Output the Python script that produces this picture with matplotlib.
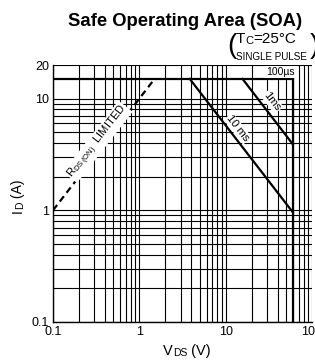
import matplotlib
matplotlib.use("Agg")
import matplotlib.pyplot as plt
from matplotlib.ticker import FixedLocator, NullFormatter
from matplotlib.text import Annotation

plt.rcParams['font.family'] = ['Liberation Sans', 'DejaVu Sans']

# ---- data ----
x_ticks = [0.1, 1, 10, 100]
x_tick_labels = ['0.1', '1', '10', '100']
y_ticks = [0.1, 1, 10, 20]
y_tick_labels = ['0.1', '1', '10', '20']

rds_v = [0.1, 1.5]
rds_i = [1.0, 15.0]
limit_v = [0.1, 60]
limit_i = [15.0, 15.0]
ms10_v = [3.84, 60]
ms10_i = [15.0, 0.96]
ms1_v = [15.7, 60]
ms1_i = [15.0, 3.9]
vdss_v = [60, 60]
vdss_i = [15.0, 0.1]

W, H = 315, 360
fig = plt.figure(figsize=(W / 100, H / 100), dpi=100)
left, right, top, bottom = 53, 312, 65, 322
ax = fig.add_axes([left / W, 1 - bottom / H, (right - left) / W, (bottom - top) / H])
ax.set_xscale('log')
ax.set_yscale('log')
ax.set_xlim(0.1, 100)
ax.set_ylim(0.1, 20)

# grid
minor_x = [m * d for d in [0.1, 1, 10] for m in range(1, 10)] + [100]
minor_y = [m * d for d in [0.1, 1] for m in range(1, 10)] + [10, 20]
for xv in minor_x:
    ax.axvline(xv, color='black', lw=0.8, zorder=1)
for yv in minor_y:
    ax.axhline(yv, color='black', lw=0.8, zorder=1)

ax.xaxis.set_major_locator(FixedLocator(x_ticks))
ax.xaxis.set_minor_locator(FixedLocator([]))
ax.xaxis.set_minor_formatter(NullFormatter())
ax.set_xticklabels(x_tick_labels)
ax.yaxis.set_major_locator(FixedLocator(y_ticks))
ax.yaxis.set_minor_locator(FixedLocator([]))
ax.yaxis.set_minor_formatter(NullFormatter())
ax.set_yticklabels(y_tick_labels)
ax.tick_params(length=0, labelsize=9, pad=3)
for s in ['top', 'right']:
    ax.spines[s].set_visible(False)
for s in ['left', 'bottom']:
    ax.spines[s].set_linewidth(1.0)

# curves
ax.plot(rds_v, rds_i, color='black', lw=1.6, ls=(0, (3, 2)), zorder=3)
ax.plot(limit_v, limit_i, color='black', lw=1.6, zorder=3)
ax.plot(ms10_v, ms10_i, color='black', lw=1.6, zorder=3)
ax.plot(ms1_v, ms1_i, color='black', lw=1.6, zorder=3)
ax.plot(vdss_v, vdss_i, color='black', lw=1.6, zorder=3)

ang = 52
wb = dict(facecolor='white', edgecolor='none', pad=0.6)
ax.text(0.33, 4.1, r'R$_{\mathregular{DS\,(ON)}}$  LIMITED', rotation=ang, fontsize=8,
        ha='center', va='center', rotation_mode='anchor', bbox=wb, zorder=4)
ax.text(13.8, 5.4, '10 ms', rotation=-ang, fontsize=8, ha='center', va='center',
        rotation_mode='anchor', bbox=wb, zorder=4)
ax.text(34.5, 9.4, '1ms', rotation=-ang, fontsize=8, ha='center', va='center',
        rotation_mode='anchor', bbox=wb, zorder=4)
ax.text(43.2, 17.2, '100\u00b5s', fontsize=7.5, ha='center', va='center',
        bbox=wb, zorder=4)

# title
fig.text(185 / W, 1 - 21 / H, 'Safe Operating Area (SOA)', fontsize=13.3,
         fontweight='bold', ha='center', va='center')


def chain_h(x, y, parts):
    prev = None
    for txt, fs in parts:
        if prev is None:
            prev = fig.text(x / W, 1 - y / H, txt, fontsize=fs, ha='left', va='bottom')
        else:
            prev = fig.add_artist(Annotation(
                txt, xy=(1, 0), xycoords=prev, fontsize=fs, ha='left', va='bottom'))
    return prev


def chain_v(x, y, parts):
    prev = None
    for txt, fs in parts:
        if prev is None:
            prev = fig.text(x / W, 1 - y / H, txt, fontsize=fs, ha='right', va='bottom',
                            rotation=90)
        else:
            prev = fig.add_artist(Annotation(
                txt, xy=(1, 1), xycoords=prev, fontsize=fs, ha='right', va='bottom',
                rotation=90))
    return prev


# axis labels
chain_h(163, 358, [('V', 10.5), ('DS', 7.5), (' (V)', 10.5)])
chain_v(25, 213, [('I', 10), ('D', 7.5), (' (A)', 10)])

# conditions
chain_h(236, 46, [('T', 11), ('C', 8), ('=25\u00b0C', 11)])
fig.text(236 / W, 1 - 62 / H, 'SINGLE PULSE', fontsize=7.1, ha='left', va='bottom')
fig.text(227 / W, 1 - 46 / H, '(', fontsize=20, ha='left', va='center')
fig.text(310 / W, 1 - 46 / H, ')', fontsize=20, ha='left', va='center')

fig.savefig('out.png', dpi=100)
